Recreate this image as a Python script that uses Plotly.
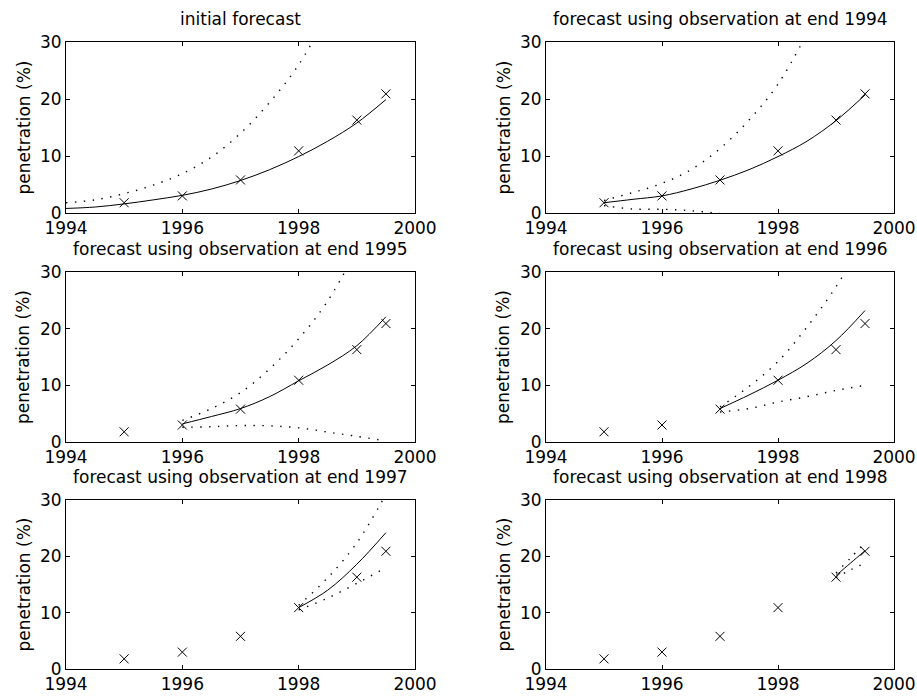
import plotly.graph_objects as go

# observed penetration (%)
obs_years = [1995, 1996, 1997, 1998, 1999, 1999.5]
obs_pen = [1.8, 3.0, 5.8, 10.9, 16.3, 20.9]

titles = [
    "initial forecast",
    "forecast using observation at end 1994",
    "forecast using observation at end 1995",
    "forecast using observation at end 1996",
    "forecast using observation at end 1997",
    "forecast using observation at end 1998",
]

# forecast curves (mean, upper and lower bounds) for each panel
x_init = [1994, 1994.5, 1995, 1995.5, 1996, 1996.5, 1997, 1997.5, 1998, 1998.5, 1999, 1999.5]
mean_init = [0.8, 1.05, 1.6, 2.3, 3.1, 4.2, 5.7, 7.6, 9.9, 12.6, 15.8, 19.9]
upper_init = [1.8, 2.3, 3.4, 4.9, 6.9, 9.8, 14.0, 19.4, 26.0, 35.0, None, None]
lower_init = []

x_94 = [1995, 1995.5, 1996, 1996.5, 1997, 1997.5, 1998, 1998.5, 1999, 1999.5]
mean_94 = [1.8, 2.4, 3.0, 4.2, 5.75, 7.6, 9.9, 12.6, 16.2, 20.7]
upper_94 = [2.2, 3.6, 5.2, 7.6, 11.3, 16.3, 22.6, 31.5, None, None]
lower_94 = [1.3, 0.7, 0.65, 0.4, -0.1]

x_95 = [1996, 1996.5, 1997, 1997.5, 1998, 1998.5, 1999, 1999.5]
mean_95 = [3.2, 4.5, 5.9, 8.0, 10.8, 13.6, 17.0, 22.1]
upper_95 = [3.8, 5.9, 8.7, 12.9, 18.2, 24.9, 34.0, None]
lower_95 = [2.6, 2.7, 2.9, 2.85, 2.5, 1.75, 1.0, 0.2]

x_96 = [1997, 1997.5, 1998, 1998.5, 1999, 1999.5]
mean_96 = [5.9, 8.3, 10.9, 13.9, 17.9, 23.2]
upper_96 = [6.2, 9.8, 14.2, 20.3, 27.4, 36.0]
lower_96 = [5.3, 5.9, 7.05, 8.0, 9.1, 10.0]

x_97 = [1998, 1998.5, 1999, 1999.5]
mean_97 = [10.9, 14.0, 18.6, 24.2]
upper_97 = [11.3, 16.2, 22.4, 31.0]
lower_97 = [10.5, 12.6, 15.2, 18.0]

x_98 = [1999, 1999.25, 1999.5]
mean_98 = [16.6, 18.8, 21.0]
upper_98 = [17.0, 19.7, 22.4]
lower_98 = [16.2, 17.6, 18.8]

panels = [
    (x_init, mean_init, upper_init, lower_init),
    (x_94, mean_94, upper_94, lower_94),
    (x_95, mean_95, upper_95, lower_95),
    (x_96, mean_96, upper_96, lower_96),
    (x_97, mean_97, upper_97, lower_97),
    (x_98, mean_98, upper_98, lower_98),
]

W, H = 917, 699
col_px = [(66, 415), (546, 894)]
row_px = [(42, 213), (272, 442), (500, 669)]
FONT = "DejaVu Sans, Arial, sans-serif"
FS = 17


def px_x(v):
    return v / W


def px_y(v):
    return 1 - v / H


fig = go.Figure()
layout = dict(width=W, height=H, margin=dict(l=0, r=0, t=0, b=0),
              paper_bgcolor="white", plot_bgcolor="white", showlegend=False,
              font=dict(family=FONT, size=FS, color="black"))
annotations = []

for i, (xs, mean, upper, lower) in enumerate(panels):
    r, c = divmod(i, 2)
    n = "" if i == 0 else str(i + 1)
    xa, ya = "x" + n, "y" + n
    x0, x1 = col_px[c]
    y0, y1 = row_px[r]
    layout["xaxis" + n] = dict(
        domain=[px_x(x0), px_x(x1)], anchor=ya, range=[1994, 2000],
        tickvals=[1994, 1996, 1998, 2000], ticks="inside", ticklen=4,
        showline=True, mirror="ticks", linecolor="black", linewidth=1,
        tickcolor="black", showgrid=False, zeroline=False, automargin=False,
        tickfont=dict(size=FS))
    layout["yaxis" + n] = dict(
        domain=[px_y(y1), px_y(y0)], anchor=xa, range=[0, 30],
        tickvals=[0, 10, 20, 30], ticks="inside", ticklen=4,
        showline=True, mirror="ticks", linecolor="black", linewidth=1,
        tickcolor="black", showgrid=False, zeroline=False, automargin=False,
        tickfont=dict(size=FS))

    dot = dict(color="black", width=1.4, dash="1.4px,7.5px", shape="spline")
    fig.add_trace(go.Scatter(x=xs, y=upper, mode="lines", line=dot,
                             xaxis=xa, yaxis=ya, connectgaps=False))
    if lower:
        fig.add_trace(go.Scatter(x=xs[:len(lower)], y=lower, mode="lines",
                                 line=dot, xaxis=xa, yaxis=ya))
    fig.add_trace(go.Scatter(x=xs, y=mean, mode="lines",
                             line=dict(color="black", width=1, shape="spline"),
                             xaxis=xa, yaxis=ya))
    fig.add_trace(go.Scatter(x=obs_years, y=obs_pen, mode="markers",
                             marker=dict(symbol="x-thin", size=9,
                                         line=dict(color="black", width=1)),
                             xaxis=xa, yaxis=ya, cliponaxis=False))

    annotations.append(dict(text=titles[i], xref="paper", yref="paper",
                            x=px_x((x0 + x1) / 2), y=px_y(y0 - 23),
                            xanchor="center", yanchor="middle",
                            showarrow=False, font=dict(size=FS)))
    annotations.append(dict(text="penetration (%)", xref="paper", yref="paper",
                            x=px_x(x0 - 43), y=px_y((y0 + y1) / 2),
                            xanchor="center", yanchor="middle", textangle=-90,
                            showarrow=False, font=dict(size=FS)))

layout["annotations"] = annotations
fig.update_layout(**layout)
# drop the default 8px page margin so the figure fills the window exactly
fig.write_html("out.html", config={"displayModeBar": False},
               post_script="document.body.style.margin='0';"
                           "document.body.style.overflow='hidden';")
